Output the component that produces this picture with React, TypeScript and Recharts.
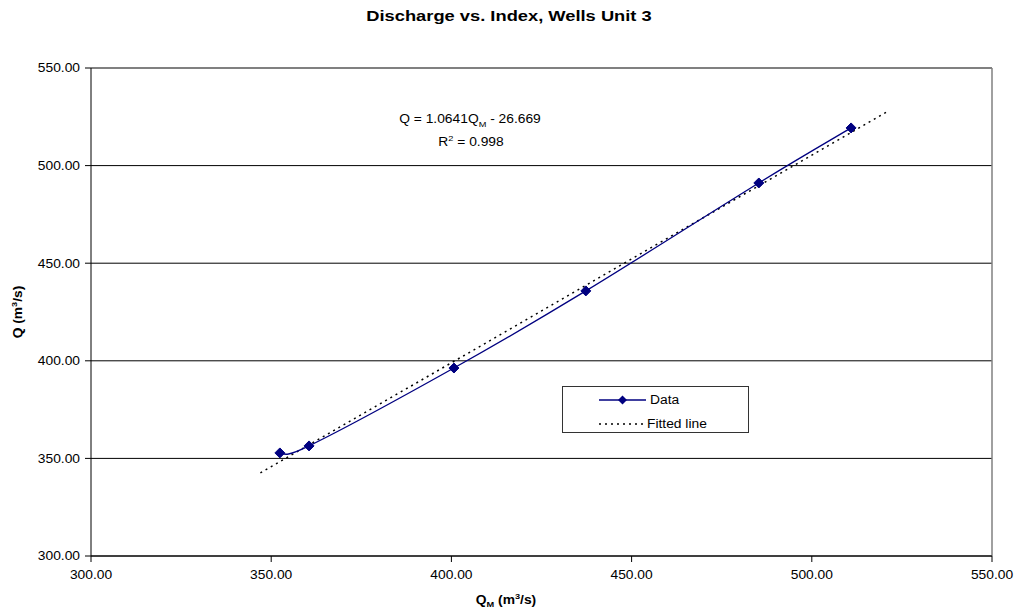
import React from 'react';
import { ComposedChart, Line, XAxis, YAxis, CartesianGrid, ReferenceLine } from 'recharts';

const qmValues = [352.4, 360.5, 400.7, 437.3, 485.3, 510.9];
const qValues = [352.8, 356.4, 396.3, 435.8, 491.1, 519.3];
const fitQmValues = [347.0, 521.0];
const fitQValues = [342.6, 527.7];
const xTicks = [300, 350, 400, 450, 500, 550];
const yTicks = [300, 350, 400, 450, 500, 550];

const dataPoints = qmValues.map((x, i) => ({ x, y: qValues[i] }));
const fitPoints = fitQmValues.map((x, i) => ({ x, y: fitQValues[i] }));

const FONT = '"Liberation Sans", Arial, sans-serif';
const NAVY = '#000080';

// Excel-style smoothed line (Catmull-Rom as cubic Bezier)
const smoothCurve = (context: any) => {
  let pts: number[][] = [];
  return {
    areaStart() {},
    areaEnd() {},
    lineStart() {
      pts = [];
    },
    point(x: number, y: number) {
      pts.push([+x, +y]);
    },
    lineEnd() {
      if (!pts.length) return;
      context.moveTo(pts[0][0], pts[0][1]);
      for (let i = 0; i < pts.length - 1; i++) {
        const p0 = pts[i - 1] || pts[i];
        const p1 = pts[i];
        const p2 = pts[i + 1];
        const p3 = pts[i + 2] || pts[i + 1];
        const c1x = p1[0] + (p2[0] - p0[0]) / 6;
        const c1y = p1[1] + (p2[1] - p0[1]) / 6;
        const c2x = p2[0] - (p3[0] - p1[0]) / 6;
        const c2y = p2[1] - (p3[1] - p1[1]) / 6;
        context.bezierCurveTo(c1x, c1y, c2x, c2y, p2[0], p2[1]);
      }
    },
  };
};

const Diamond = (props: any) => {
  const { cx, cy } = props;
  if (cx == null || cy == null) return null;
  const s = 5;
  return <path d={`M${cx},${cy - s}L${cx + s},${cy}L${cx},${cy + s}L${cx - s},${cy}Z`} fill={NAVY} stroke={NAVY} strokeWidth={1} />;
};

const YTick = (props: any) => {
  const { x, y, payload } = props;
  return (
    <text transform={`translate(${x},${y}) scale(1.15,1)`} textAnchor="end" dy="0.36em" fontSize={12} fontFamily={FONT} fill="#000">
      {Number(payload.value).toFixed(2)}
    </text>
  );
};

const XTick = (props: any) => {
  const { x, y, payload } = props;
  return (
    <text transform={`translate(${x},${y}) scale(1.15,1)`} textAnchor="middle" dy="0.71em" fontSize={12} fontFamily={FONT} fill="#000">
      {Number(payload.value).toFixed(2)}
    </text>
  );
};

const centered = (left: number, top: number, extra: string, style: React.CSSProperties = {}): React.CSSProperties => ({
  position: 'absolute',
  left,
  top,
  transform: `translate(-50%, -50%) ${extra}`,
  whiteSpace: 'nowrap',
  fontFamily: FONT,
  color: '#000',
  lineHeight: 1,
  ...style,
});

export default function App() {
  return (
    <div style={{ position: 'absolute', left: 0, top: 0, width: 1017, height: 613, background: '#fff' }}>
      <ComposedChart width={1017} height={613} margin={{ top: 68, right: 25, bottom: 27, left: 31 }}>
        <CartesianGrid horizontal={true} vertical={false} stroke="#000" strokeWidth={1} />
        <XAxis
          type="number"
          dataKey="x"
          domain={[300, 550]}
          ticks={xTicks}
          allowDataOverflow
          height={30}
          tickSize={6}
          tickMargin={8}
          tick={<XTick />}
          axisLine={{ stroke: '#000' }}
          tickLine={{ stroke: '#000' }}
        />
        <YAxis
          type="number"
          dataKey="y"
          domain={[300, 550]}
          ticks={yTicks}
          allowDataOverflow
          width={60}
          tickSize={6}
          tickMargin={5}
          tick={<YTick />}
          axisLine={{ stroke: '#000' }}
          tickLine={{ stroke: '#000' }}
        />
        <ReferenceLine y={550} stroke="#808080" strokeWidth={1.5} />
        <ReferenceLine x={550} stroke="#808080" strokeWidth={1.5} />
        <Line
          data={fitPoints}
          dataKey="y"
          type="linear"
          stroke="#000"
          strokeWidth={1.5}
          strokeDasharray="2 4"
          dot={false}
          activeDot={false}
          isAnimationActive={false}
        />
        <Line
          data={dataPoints}
          dataKey="y"
          type={smoothCurve as any}
          stroke={NAVY}
          strokeWidth={1.3}
          dot={<Diamond />}
          activeDot={false}
          isAnimationActive={false}
        />
      </ComposedChart>

      <div style={centered(509, 15, 'scaleX(1.22)', { fontSize: 15, fontWeight: 'bold' })}>
        Discharge vs. Index, Wells Unit 3
      </div>

      <div style={centered(17, 312, 'rotate(-90deg) scaleX(1.15)', { fontSize: 12, fontWeight: 'bold' })}>
        Q (m<sup style={{ fontSize: 8 }}>3</sup>/s)
      </div>

      <div style={centered(506, 601, 'scaleX(1.15)', { fontSize: 12, fontWeight: 'bold' })}>
        Q<sub style={{ fontSize: 8 }}>M</sub> (m<sup style={{ fontSize: 8 }}>3</sup>/s)
      </div>

      <div style={centered(470, 121, 'scaleX(1.15)', { fontSize: 12 })}>
        Q = 1.0641Q<sub style={{ fontSize: 8 }}>M</sub> - 26.669
      </div>
      <div style={centered(471, 141, 'scaleX(1.15)', { fontSize: 12 })}>
        R<sup style={{ fontSize: 8 }}>2</sup> = 0.998
      </div>

      <div
        style={{
          position: 'absolute',
          left: 562,
          top: 386,
          width: 185,
          height: 45,
          border: '1px solid #333',
          background: '#fff',
          fontFamily: FONT,
        }}
      >
        <svg width={185} height={45} style={{ position: 'absolute', left: 0, top: 0 }}>
          <line x1={36} y1={13} x2={83} y2={13} stroke={NAVY} strokeWidth={1.3} />
          <path d="M59.5,8.5L64,13L59.5,17.5L55,13Z" fill={NAVY} />
          <line x1={36} y1={37} x2={83} y2={37} stroke="#000" strokeWidth={1.5} strokeDasharray="2 4" />
        </svg>
        <div style={{ position: 'absolute', left: 87, top: 13, transform: 'translateY(-50%) scaleX(1.15)', transformOrigin: 'left center', fontSize: 12, lineHeight: 1, whiteSpace: 'nowrap' }}>
          Data
        </div>
        <div style={{ position: 'absolute', left: 84, top: 37, transform: 'translateY(-50%) scaleX(1.15)', transformOrigin: 'left center', fontSize: 12, lineHeight: 1, whiteSpace: 'nowrap' }}>
          Fitted line
        </div>
      </div>
    </div>
  );
}
